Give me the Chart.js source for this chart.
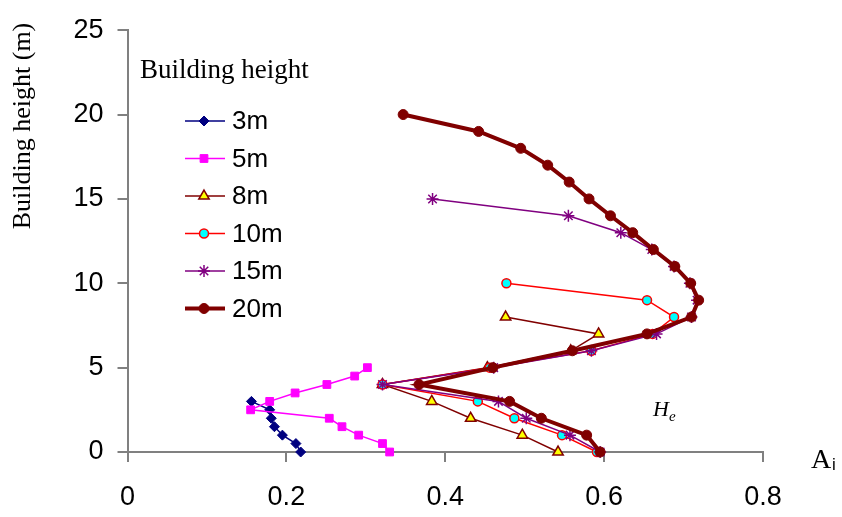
<!DOCTYPE html>
<html>
<head>
<meta charset="utf-8">
<script src="https://cdn.jsdelivr.net/npm/chart.js@4"></script>
<style>
  body { margin: 0; background: #fff; }
  #wrap { width: 842px; height: 517px; position: relative; }
</style>
</head>
<body>
<div id="wrap"><canvas id="chart"></canvas></div>
<script>
// Heights (m), top to bottom
const heights3 = [3, 2.5, 2, 1.5, 1, 0.5, 0];
const heights5 = [5, 4.5, 4, 3.5, 3, 2.5, 2, 1.5, 1, 0.5, 0];
const heights8 = [8, 7, 6, 5, 4, 3, 2, 1, 0];
const heights10 = [10, 9, 8, 7, 6, 5, 4, 3, 2, 1, 0];
const heights15 = [15, 14, 13, 12, 11, 10, 9, 8, 7, 6, 5, 4, 3, 2, 1, 0];
const heights20 = [20, 19, 18, 17, 16, 15, 14, 13, 12, 11, 10, 9, 8, 7, 6, 5, 4, 3, 2, 1, 0];

// A_i values per building height
const a3 = [0.156, 0.179, 0.181, 0.185, 0.195, 0.212, 0.218];
const a5 = [0.302, 0.286, 0.251, 0.211, 0.179, 0.155, 0.254, 0.270, 0.291, 0.321, 0.330];
const a8 = [0.476, 0.593, 0.558, 0.453, 0.321, 0.383, 0.432, 0.497, 0.542];
const a10 = [0.477, 0.654, 0.688, 0.661, 0.584, 0.456, 0.321, 0.441, 0.487, 0.547, 0.591];
const a15 = [0.384, 0.555, 0.621, 0.660, 0.688, 0.708, 0.717, 0.710, 0.666, 0.584, 0.461, 0.321, 0.467, 0.502, 0.557, 0.595];
const a20 = [0.347, 0.442, 0.495, 0.529, 0.556, 0.581, 0.608, 0.636, 0.662, 0.689, 0.709, 0.719, 0.710,
             0.654, 0.560, 0.460, 0.367, 0.481, 0.521, 0.578, 0.595];

const seriesLabels = ['3m', '5m', '8m', '10m', '15m', '20m'];
const xTicks = [0, 0.2, 0.4, 0.6, 0.8];
const yTicks = [0, 5, 10, 15, 20, 25];

const AXIS = '#808080';
const SANS = '"Liberation Sans", Arial, sans-serif';
const SERIF = '"Liberation Serif", "Times New Roman", serif';

function pts(a, h) {
    return a.map((x, i) => ({ x: x, y: h[i] }));
}

const datasets = [
    { label: seriesLabels[0], data: pts(a3, heights3), borderColor: '#000080', backgroundColor: '#000080',
      pointBorderColor: '#000080', pointStyle: 'rectRot', pointRadius: 5, borderWidth: 1.5, pointBorderWidth: 1, order: 5 },
    { label: seriesLabels[1], data: pts(a5, heights5), borderColor: '#FF00FF', backgroundColor: '#FF00FF',
      pointBorderColor: '#FF00FF', pointStyle: 'rect', pointRadius: 5.5, borderWidth: 1.5, pointBorderWidth: 1, order: 4 },
    { label: seriesLabels[2], data: pts(a8, heights8), borderColor: '#800000', backgroundColor: '#FFFF00',
      pointBorderColor: '#800000', pointStyle: 'triangle', pointRadius: 6, borderWidth: 1.5, pointBorderWidth: 1.5, order: 3 },
    { label: seriesLabels[3], data: pts(a10, heights10), borderColor: '#FF0000', backgroundColor: '#00FFFF',
      pointBorderColor: '#FF0000', pointStyle: 'circle', pointRadius: 4.5, borderWidth: 1.5, pointBorderWidth: 1.5, order: 2 },
    { label: seriesLabels[4], data: pts(a15, heights15), borderColor: '#800080', backgroundColor: '#800080',
      pointBorderColor: '#800080', pointStyle: 'star', pointRadius: 6, borderWidth: 1.5, pointBorderWidth: 1.5, order: 1 },
    { label: seriesLabels[5], data: pts(a20, heights20), borderColor: '#800000', backgroundColor: '#800000',
      pointBorderColor: '#800000', pointStyle: 'circle', pointRadius: 5, borderWidth: 4, pointBorderWidth: 1, order: 0 }
];
datasets.forEach(d => { d.showLine = true; d.clip = false; d.pointBackgroundColor = d.backgroundColor; });

// Legend, axis titles and the H_e note
const notes = {
    id: 'notes',
    afterDraw(chart) {
        const ctx = chart.ctx;
        ctx.save();

        // y axis title
        ctx.save();
        ctx.translate(30, 126);
        ctx.rotate(-Math.PI / 2);
        ctx.fillStyle = '#000';
        ctx.font = '26px ' + SERIF;
        ctx.textAlign = 'center';
        ctx.textBaseline = 'alphabetic';
        ctx.fillText('Building height (m)', 0, 0);
        ctx.restore();

        // legend
        ctx.fillStyle = '#000';
        ctx.font = '27px ' + SERIF;
        ctx.textAlign = 'left';
        ctx.textBaseline = 'alphabetic';
        ctx.fillText('Building height', 140, 78);

        chart.data.datasets.forEach((d, i) => {
            const y = 121 + i * 37.5;
            ctx.strokeStyle = d.borderColor;
            ctx.lineWidth = d.borderWidth;
            ctx.beginPath();
            ctx.moveTo(185, y);
            ctx.lineTo(225, y);
            ctx.stroke();
            ctx.fillStyle = d.pointBackgroundColor;
            ctx.strokeStyle = d.pointBorderColor;
            ctx.lineWidth = d.pointBorderWidth;
            Chart.helpers.drawPoint(ctx, { pointStyle: d.pointStyle, radius: d.pointRadius, rotation: 0, borderWidth: d.pointBorderWidth }, 204, y);
            ctx.fillStyle = '#000';
            ctx.font = '26px ' + SANS;
            ctx.textBaseline = 'middle';
            ctx.fillText(d.label, 232, y + 1);
        });

        // x axis title A_i
        ctx.textBaseline = 'alphabetic';
        ctx.fillStyle = '#000';
        ctx.font = '28px ' + SERIF;
        ctx.fillText('A', 811, 468);
        ctx.font = '17px ' + SANS;
        ctx.fillText('i', 832, 470);

        // H_e
        ctx.font = 'italic 22px ' + SERIF;
        ctx.fillText('H', 653, 416);
        const hw = ctx.measureText('H').width;
        ctx.font = 'italic 15px ' + SERIF;
        ctx.fillText('e', 653 + hw, 421);

        ctx.restore();
    }
};

new Chart(document.getElementById('chart'), {
    type: 'scatter',
    data: { datasets: datasets },
    options: {
        responsive: true,
        maintainAspectRatio: false,
        animation: false,
        layout: { padding: { top: 20, right: 79, left: 0, bottom: 0 } },
        plugins: { legend: { display: false }, tooltip: { enabled: false } },
        scales: {
            x: {
                type: 'linear',
                min: 0, max: 0.8,
                afterBuildTicks: (s) => { s.ticks = xTicks.map(v => ({ value: v })); },
                afterFit: (s) => { s.height = 65; },
                ticks: { color: '#000', font: { family: SANS, size: 27 }, padding: 19, maxRotation: 0,
                         callback: (v) => String(v) },
                grid: { drawOnChartArea: false, drawTicks: true, tickLength: 10, color: AXIS, lineWidth: 2 },
                border: { display: true, color: AXIS, width: 2 }
            },
            y: {
                type: 'linear',
                min: 0, max: 25,
                afterBuildTicks: (s) => { s.ticks = yTicks.map(v => ({ value: v })); },
                afterFit: (s) => { s.width = 127.5; },
                ticks: { color: '#000', font: { family: SANS, size: 27 }, padding: 14 },
                grid: { drawOnChartArea: false, drawTicks: true, tickLength: 10, color: AXIS, lineWidth: 2 },
                border: { display: true, color: AXIS, width: 2 }
            }
        }
    },
    plugins: [notes]
});
</script>
</body>
</html>
